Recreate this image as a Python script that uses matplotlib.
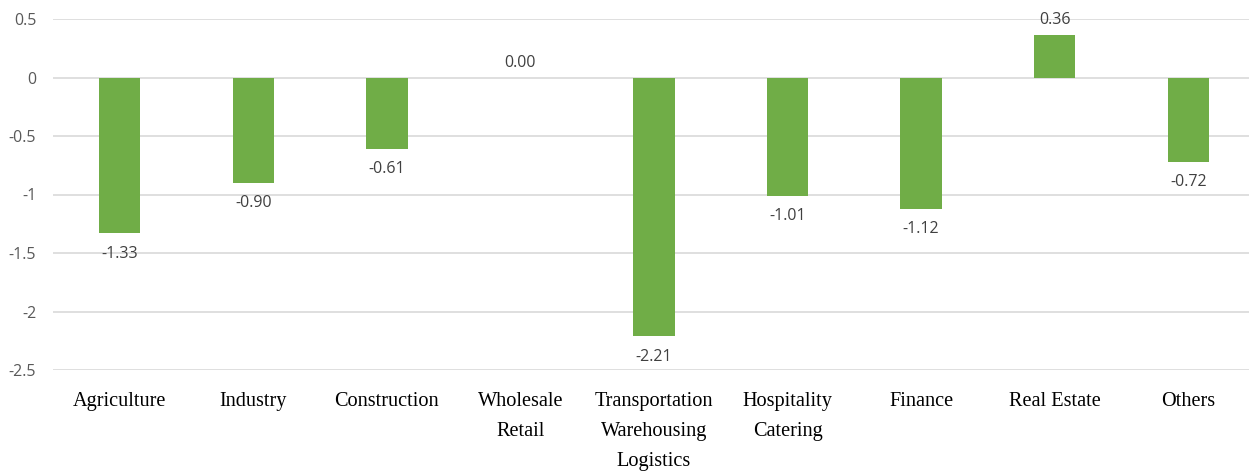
import matplotlib.pyplot as plt

categories = ["Agriculture", "Industry", "Construction", "Wholesale\nRetail",
              "Transportation\nWarehousing\nLogistics", "Hospitality\nCatering",
              "Finance", "Real Estate", "Others"]
values = [-1.33, -0.90, -0.61, 0.00, -2.21, -1.01, -1.12, 0.36, -0.72]
yticks = [0.5, 0, -0.5, -1, -1.5, -2, -2.5]
ytick_labels = ["0.5", "0", "-0.5", "-1", "-1.5", "-2", "-2.5"]

fig = plt.figure(figsize=(12.49, 4.71), dpi=100)
ax = fig.add_axes([53 / 1249, 101 / 471, 1202 / 1249, 351 / 471])

x = range(len(categories))
ax.bar(x, values, width=0.31, color="#70ad47", zorder=3)

for i, v in enumerate(values):
    if v < 0:
        ax.annotate(f"{v:.2f}", (i, v), xytext=(0, -9), textcoords="offset points",
                    ha="center", va="top", fontsize=11.5, color="#404040",
                    family="Open Sans")
    else:
        ax.annotate(f"{v:.2f}", (i, v), xytext=(0, 5), textcoords="offset points",
                    ha="center", va="bottom", fontsize=11.5, color="#404040",
                    family="Open Sans")

ax.set_xlim(-0.5, len(categories) - 0.5)
ax.set_ylim(-2.5, 0.5)
ax.set_yticks(yticks)
ax.set_yticklabels(ytick_labels, family="Open Sans", fontsize=11.5, color="#595959")
ax.set_xticks(list(x))
ax.set_xticklabels(categories, family="Liberation Serif", fontsize=14.6,
                   linespacing=1.8, va="top")
ax.tick_params(axis="both", length=0)
ax.tick_params(axis="x", pad=15.5)
ax.tick_params(axis="y", pad=12)
ax.grid(axis="y", color="#d9d9d9", linewidth=1.2, zorder=0)
for s in ax.spines.values():
    s.set_visible(False)

fig.savefig("out.png", dpi=100)
